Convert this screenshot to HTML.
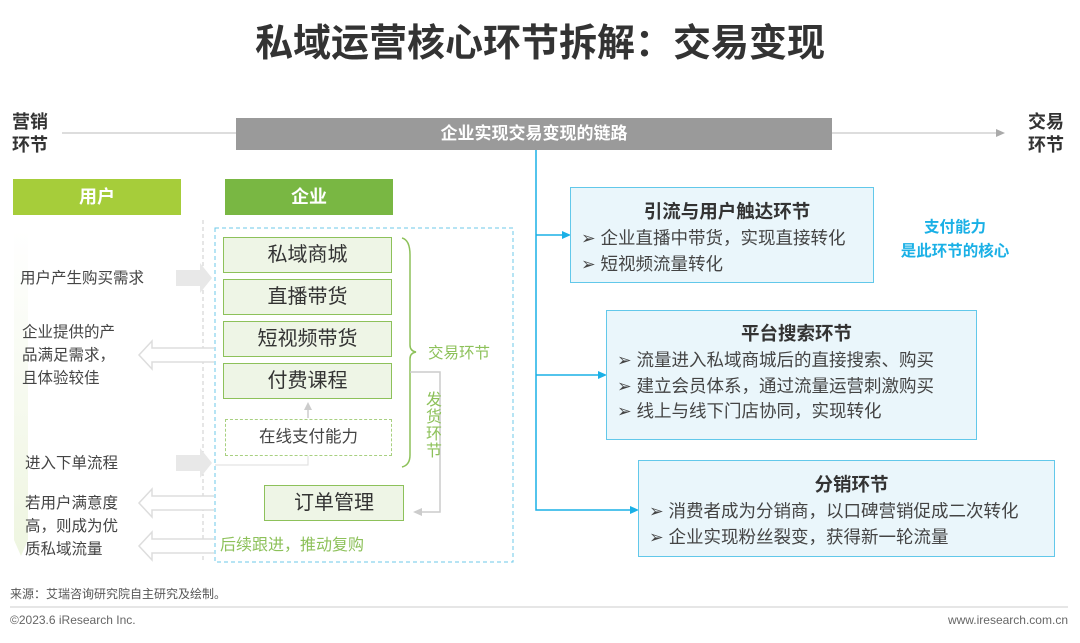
<!DOCTYPE html><html><head><meta charset="utf-8"><style>
body{margin:0;width:1080px;height:643px;background:#fff;position:relative;overflow:hidden;font-family:"Liberation Sans","Noto Sans CJK SC",sans-serif;color:#444}
.a{position:absolute}
.g{background:#eef5e6;border:1.5px solid #8dc15a;box-sizing:border-box;text-align:center;font-size:20px;color:#333}
.b{background:#eaf6fb;border:1.5px solid #62c8ea;box-sizing:border-box;font-size:17.5px;color:#444}
.b h4{margin:0 0 1px;text-align:center;font-size:18.5px;color:#333;line-height:26px}
.b p{margin:0;line-height:25.5px}
.t{font-size:15.5px;color:#444;line-height:23px}
</style></head><body>
<div class="a" style="left:0;width:1080px;top:12px;text-align:center;font-size:38px;font-weight:bold;color:#333">私域运营核心环节拆解：交易变现</div>
<div class="a" style="left:12px;top:111px;font-size:18px;font-weight:bold;line-height:23px;color:#333">营销<br>环节</div>
<div class="a" style="left:1028px;top:111px;font-size:18px;font-weight:bold;line-height:23px;color:#333">交易<br>环节</div>
<div class="a" style="left:236px;top:118px;width:596px;height:32px;background:#9a9a9a;color:#fff;font-weight:bold;font-size:17px;text-align:center;line-height:32px">企业实现交易变现的链路</div>
<svg class="a" style="left:0;top:0" width="1080" height="643">
<defs><linearGradient id="lg" x1="0" y1="0" x2="0" y2="1"><stop offset="0" stop-color="#fff"/><stop offset="1" stop-color="#eef5e0"/></linearGradient></defs>
<line x1="62" y1="133" x2="236" y2="133" stroke="#bbb"/>
<line x1="832" y1="133" x2="998" y2="133" stroke="#bbb"/>
<path d="M996 129 L1005 133 L996 137Z" fill="#aaa"/>
<path d="M14 230 H28 V540 L21 556 L14 540Z" fill="url(#lg)"/>
<line x1="203" y1="220" x2="203" y2="560" stroke="#ccc" stroke-dasharray="4,3"/>
<rect x="215" y="228" width="298" height="334" fill="none" stroke="#6cc9e8" stroke-dasharray="4,3"/>
<path d="M176 270 H200 V263 L212 278 L200 293 V286 H176Z" fill="#e8e8e8"/>
<path d="M176 455 H200 V448 L212 463 L200 478 V471 H176Z" fill="#e8e8e8"/>
<g fill="#fff" stroke="#ddd" stroke-width="1.5">
<path d="M214 348 H152 V341 L139 355 L152 369 V362 H214"/>
<path d="M214 496 H152 V489 L139 503 L152 517 V510 H214"/>
<path d="M214 539 H152 V532 L139 546 L152 560 V553 H214"/>
</g>
<path d="M402 238 Q410 240 410 255 V345 Q410 351 416 352 Q410 353 410 359 V455 Q410 465 402 467" fill="none" stroke="#8dc15a" stroke-width="1.5"/>
<path d="M410 372 H440 V512 H420" fill="none" stroke="#ccc" stroke-width="1.5"/>
<path d="M422 508 L413 512 L422 516Z" fill="#ccc"/>
<line x1="308" y1="408" x2="308" y2="418" stroke="#ccc" stroke-width="1.5"/>
<path d="M304 410 L308 402 L312 410Z" fill="#ccc"/>
<path d="M308 456 V465 H215" fill="none" stroke="#ddd"/>
<g stroke="#1ab0e6" stroke-width="1.5" fill="none"><path d="M536 150 V510 H630 M536 235 H562 M536 375 H598"/></g>
<g fill="#1ab0e6"><path d="M562 231 L571 235 L562 239Z"/><path d="M598 371 L607 375 L598 379Z"/><path d="M630 506 L639 510 L630 514Z"/></g>
<line x1="10" y1="607" x2="1068" y2="607" stroke="#ccc"/>
</svg>
<div class="a" style="left:13px;top:179px;width:168px;height:36px;background:#a6cd3a;color:#fff;font-weight:bold;font-size:18px;text-align:center;line-height:36px">用户</div>
<div class="a" style="left:225px;top:179px;width:168px;height:36px;background:#79b743;color:#fff;font-weight:bold;font-size:18px;text-align:center;line-height:36px">企业</div>
<div class="a g" style="left:223px;top:237px;width:169px;height:36px;line-height:34px">私域商城</div>
<div class="a g" style="left:223px;top:279px;width:169px;height:36px;line-height:34px">直播带货</div>
<div class="a g" style="left:223px;top:321px;width:169px;height:36px;line-height:34px">短视频带货</div>
<div class="a g" style="left:223px;top:363px;width:169px;height:36px;line-height:34px">付费课程</div>
<div class="a" style="left:225px;top:419px;width:167px;height:37px;border:1.5px dashed #a8d080;box-sizing:border-box;text-align:center;line-height:35px;font-size:16.5px;color:#444">在线支付能力</div>
<div class="a g" style="left:264px;top:485px;width:140px;height:36px;line-height:34px">订单管理</div>
<div class="a" style="left:428px;top:341px;font-size:15.5px;color:#8dc15a">交易环节</div>
<div class="a" style="left:426px;top:392px;width:18px;font-size:16px;line-height:17px;color:#8dc15a">发货环节</div>
<div class="a" style="left:220px;top:531px;font-size:16px;color:#8dc15a">后续跟进，推动复购</div>
<div class="a t" style="left:20px;top:267px">用户产生购买需求</div>
<div class="a t" style="left:22px;top:321px">企业提供的产<br>品满足需求，<br>且体验较佳</div>
<div class="a t" style="left:25px;top:452px">进入下单流程</div>
<div class="a t" style="left:25px;top:492px">若用户满意度<br>高，则成为优<br>质私域流量</div>
<div class="a b" style="left:570px;top:187px;width:304px;height:96px;padding:11px 0 0 10px"><h4>引流与用户触达环节</h4><p>➢ 企业直播中带货，实现直接转化</p><p>➢ 短视频流量转化</p></div>
<div class="a b" style="left:606px;top:310px;width:371px;height:130px;padding:10px 0 0 10px"><h4>平台搜索环节</h4><p>➢ 流量进入私域商城后的直接搜索、购买</p><p>➢ 建立会员体系，通过流量运营刺激购买</p><p>➢ 线上与线下门店协同，实现转化</p></div>
<div class="a b" style="left:638px;top:460px;width:417px;height:97px;padding:11px 0 0 10px"><h4>分销环节</h4><p>➢ 消费者成为分销商，以口碑营销促成二次转化</p><p>➢ 企业实现粉丝裂变，获得新一轮流量</p></div>
<div class="a" style="left:880px;top:216px;width:150px;text-align:center;font-size:15.5px;font-weight:bold;color:#1ab0e6;line-height:24px">支付能力<br>是此环节的核心</div>
<div class="a" style="left:10px;top:585px;font-size:12px;color:#555">来源：艾瑞咨询研究院自主研究及绘制。</div>
<div class="a" style="left:10px;top:613px;font-size:12px;color:#666">©2023.6 iResearch Inc.</div>
<div class="a" style="right:12px;top:613px;font-size:12px;color:#666">www.iresearch.com.cn</div>
</body></html>
